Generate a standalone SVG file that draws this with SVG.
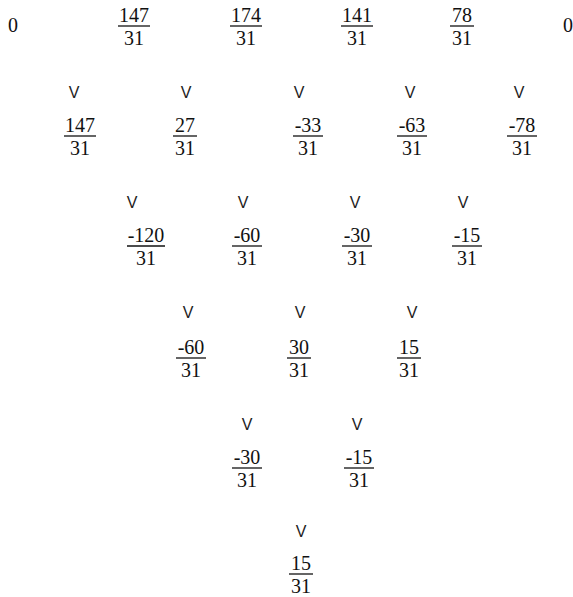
<svg xmlns="http://www.w3.org/2000/svg" width="573" height="597" viewBox="0 0 573 597">
<style>
.t{font-family:"Liberation Serif","Times New Roman",serif;font-size:20px;fill:#111;text-anchor:middle}
.n{transform:translateY(-4px)}
.v{font-family:"Liberation Sans",Arial,sans-serif;font-size:16px;fill:#222;text-anchor:middle}
.b{stroke:#111;stroke-width:1.3}
</style>
<rect width="573" height="597" fill="#fff"/>
<g id="n0_0"><text class="t" x="13" y="32">0</text></g>
<g id="n0_1" transform="translate(134,26)"><text class="t" y="-4">147</text><line class="b" x1="-16" x2="16"/><text class="t" y="18.5">31</text></g>
<g id="n0_2" transform="translate(246,26)"><text class="t" y="-4">174</text><line class="b" x1="-16" x2="16"/><text class="t" y="18.5">31</text></g>
<g id="n0_3" transform="translate(357,26)"><text class="t" y="-4">141</text><line class="b" x1="-16" x2="16"/><text class="t" y="18.5">31</text></g>
<g id="n0_4" transform="translate(462,26)"><text class="t" y="-4">78</text><line class="b" x1="-12" x2="12"/><text class="t" y="18.5">31</text></g>
<g id="n0_5"><text class="t" x="568" y="32">0</text></g>

<g id="n1_1" transform="translate(80,136)"><text class="t" y="-4">147</text><line class="b" x1="-16" x2="16"/><text class="t" y="18.5">31</text></g>
<g id="n1_2" transform="translate(185,136)"><text class="t" y="-4">27</text><line class="b" x1="-12" x2="12"/><text class="t" y="18.5">31</text></g>
<g id="n1_3" transform="translate(308,136)"><text class="t" y="-4">-33</text><line class="b" x1="-15" x2="15"/><text class="t" y="18.5">31</text></g>
<g id="n1_4" transform="translate(412,136)"><text class="t" y="-4">-63</text><line class="b" x1="-15" x2="15"/><text class="t" y="18.5">31</text></g>
<g id="n1_5" transform="translate(522,136)"><text class="t" y="-4">-78</text><line class="b" x1="-15" x2="15"/><text class="t" y="18.5">31</text></g>

<g id="n2_1" transform="translate(146,246)"><text class="t" y="-4">-120</text><line class="b" x1="-19" x2="19"/><text class="t" y="18.5">31</text></g>
<g id="n2_2" transform="translate(247,246)"><text class="t" y="-4">-60</text><line class="b" x1="-15" x2="15"/><text class="t" y="18.5">31</text></g>
<g id="n2_3" transform="translate(357,246)"><text class="t" y="-4">-30</text><line class="b" x1="-15" x2="15"/><text class="t" y="18.5">31</text></g>
<g id="n2_4" transform="translate(467,246)"><text class="t" y="-4">-15</text><line class="b" x1="-15" x2="15"/><text class="t" y="18.5">31</text></g>

<g id="n3_1" transform="translate(191,358)"><text class="t" y="-4">-60</text><line class="b" x1="-15" x2="15"/><text class="t" y="18.5">31</text></g>
<g id="n3_2" transform="translate(299,358)"><text class="t" y="-4">30</text><line class="b" x1="-12" x2="12"/><text class="t" y="18.5">31</text></g>
<g id="n3_3" transform="translate(409,358)"><text class="t" y="-4">15</text><line class="b" x1="-12" x2="12"/><text class="t" y="18.5">31</text></g>

<g id="n4_1" transform="translate(247,468)"><text class="t" y="-4">-30</text><line class="b" x1="-15" x2="15"/><text class="t" y="18.5">31</text></g>
<g id="n4_2" transform="translate(359,468)"><text class="t" y="-4">-15</text><line class="b" x1="-15" x2="15"/><text class="t" y="18.5">31</text></g>

<g id="n5_1" transform="translate(301,574)"><text class="t" y="-4">15</text><line class="b" x1="-12" x2="12"/><text class="t" y="18.5">31</text></g>

<g id="connectors">
<text class="v" x="74" y="98">V</text>
<text class="v" x="186" y="98">V</text>
<text class="v" x="299" y="98">V</text>
<text class="v" x="410" y="98">V</text>
<text class="v" x="519" y="98">V</text>
<text class="v" x="132" y="208">V</text>
<text class="v" x="243" y="208">V</text>
<text class="v" x="355" y="208">V</text>
<text class="v" x="463" y="208">V</text>
<text class="v" x="188" y="318">V</text>
<text class="v" x="300" y="318">V</text>
<text class="v" x="412" y="318">V</text>
<text class="v" x="247" y="430">V</text>
<text class="v" x="357" y="430">V</text>
<text class="v" x="301" y="537">V</text>
</g>
</svg>
